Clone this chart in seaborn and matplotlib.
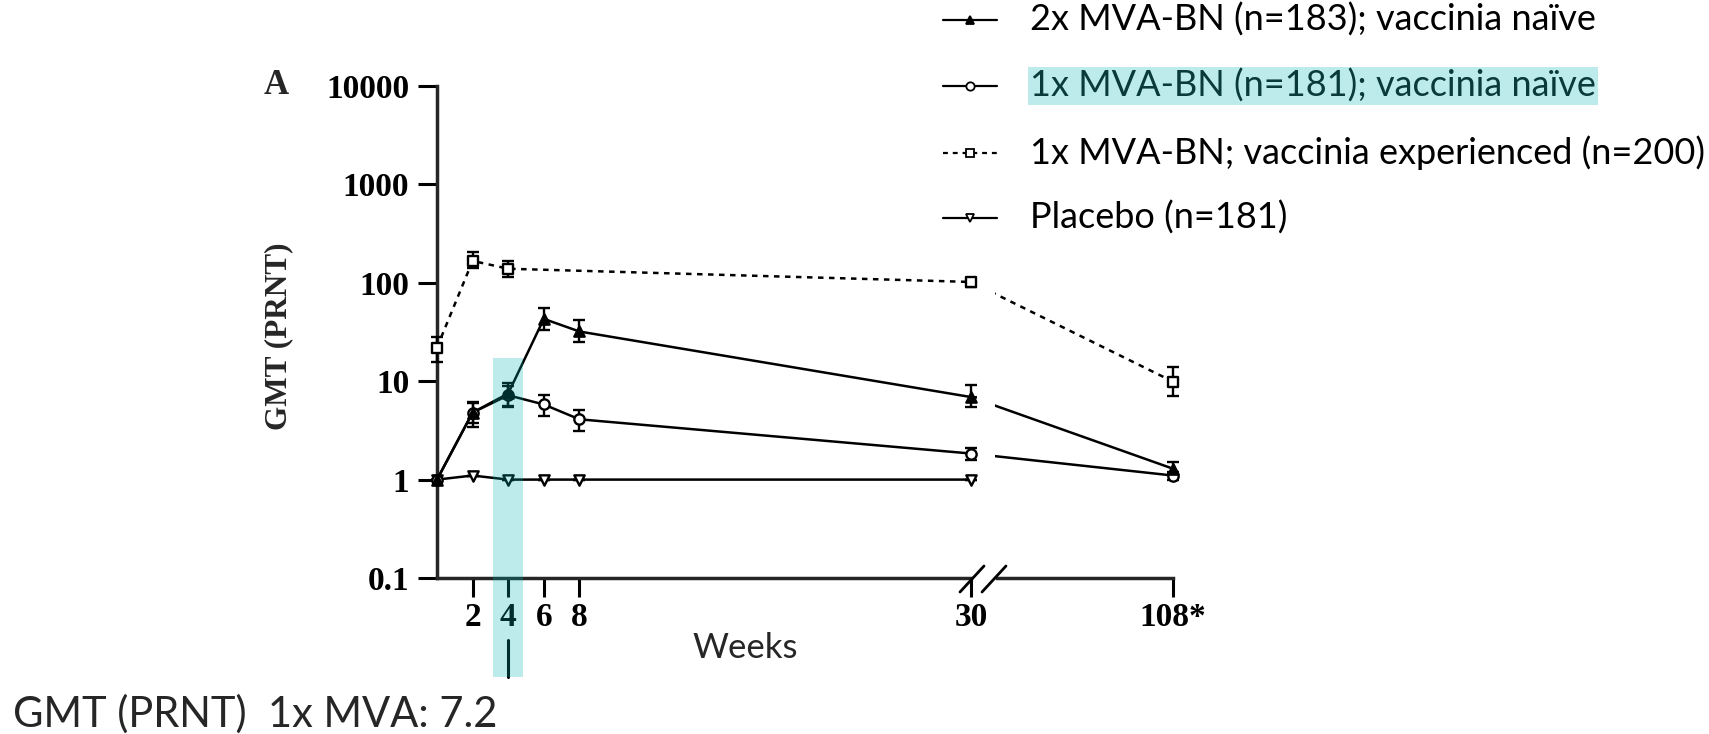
import numpy as np
import pandas as pd
import matplotlib.pyplot as plt
import seaborn as sns
from matplotlib.lines import Line2D
from matplotlib.patches import Rectangle
from matplotlib.ticker import NullLocator

# --Data (GMT by PRNT)--
weeks_2x = [0, 2, 4, 6, 8, 30, 108]
gmt_2x = [1.0, 4.8, 7.5, 43, 32, 6.9, 1.29]
lo_2x = [1.0, 3.4, 5.5, 33, 25, 5.5, 1.15]
hi_2x = [1.0, 6.1, 9.6, 56, 42, 9.2, 1.5]

weeks_1x = [0, 2, 4, 6, 8, 30, 108]
gmt_1x = [1.0, 4.8, 7.2, 5.8, 4.1, 1.84, 1.1]
lo_1x = [1.0, 3.8, 5.6, 4.4, 3.1, 1.6, 1.0]
hi_1x = [1.0, 6.0, 9.0, 7.3, 5.1, 2.1, 1.2]

weeks_exp = [0, 2, 4, 30, 108]
gmt_exp = [22, 167, 139, 102, 9.9]
lo_exp = [15.5, 142, 115, 91, 7.0]
hi_exp = [28, 207, 168, 113, 14]

weeks_pbo = [0, 2, 4, 6, 8, 30]
gmt_pbo = [1.0, 1.1, 1.0, 1.0, 1.0, 1.0]

labels = ["2x MVA-BN (n=183); vaccinia naïve",
          "1x MVA-BN (n=181); vaccinia naïve",
          "1x MVA-BN; vaccinia experienced (n=200)",
          "Placebo (n=181)"]
y_ticks = [0.1, 1, 10, 100, 1000, 10000]
y_ticklabels = ["0.1", "1", "10", "100", "1000", "10000"]
x_ticks = [2, 4, 6, 8, 30]

# -Long table
parts = []
for lab, wk, g, lo, hi in [(labels[0], weeks_2x, gmt_2x, lo_2x, hi_2x),
                           (labels[1], weeks_1x, gmt_1x, lo_1x, hi_1x),
                           (labels[2], weeks_exp, gmt_exp, lo_exp, hi_exp),
                           (labels[3], weeks_pbo, gmt_pbo, gmt_pbo, gmt_pbo)]:
    parts.append(pd.DataFrame({"group": lab, "week": wk, "gmt": g, "lo": lo, "hi": hi}))
df = pd.concat(parts, ignore_index=True)

# -marker / line style per group (z: filled 2x dose drawn on top)
styles = {
    labels[0]: dict(marker="^", fc="black", ls="-", z=7),
    labels[1]: dict(marker="o", fc="white", ls="-", z=6),
    labels[2]: dict(marker="s", fc="white", ls=(0, (2.2, 2.2)), z=5),
    labels[3]: dict(marker="v", fc="white", ls="-", z=5),
}

# --Style--
sns.set_style("ticks")
plt.rcParams["font.family"] = ["Liberation Serif", "DejaVu Serif"]
plt.rcParams["font.weight"] = "bold"
SANS = ["Lato", "DejaVu Sans"]

W, H = 1709, 734
fig = plt.figure(figsize=(W / 100, H / 100), dpi=100)


def fx(px):
    return px / W


def fy(py):
    return 1 - py / H


# -left panel: 0..30 weeks, right panel: 108 weeks (broken axis)
ax1 = fig.add_axes([fx(437), fy(578), (977 - 437) / W, (578 - 86) / H])
ax2 = fig.add_axes([fx(995), fy(578), (1182 - 995) / W, (578 - 86) / H])
ax2.set_facecolor("none")

k1 = (971 - 437) / 30      # px per week, left
k2 = (1173 - 971) / 78     # px per week, right
x2_left = 30 + (995 - 971) / k2
x2_right = 108 + (1182 - 1173) / k2

lw = 1.8
for lab in labels:
    sub = df[df["group"] == lab]
    st = styles[lab]
    for ax, part, mk in [(ax1, sub, sub[sub["week"] <= 30]),
                         (ax2, sub[sub["week"] >= 30], sub[sub["week"] > 30])]:
        if len(part) < 2:
            continue
        sns.lineplot(data=part, x="week", y="gmt", ax=ax, color="black", lw=lw,
                     linestyle=st["ls"], estimator=None, sort=False, legend=False,
                     zorder=3)
        if len(mk) == 0:
            continue
        eb = ax.errorbar(mk["week"], mk["gmt"],
                         yerr=[mk["gmt"] - mk["lo"], mk["hi"] - mk["gmt"]],
                         fmt="none", ecolor="black", elinewidth=1.7, capsize=4.6,
                         capthick=1.7, zorder=4)
        for art in eb.get_children():
            art.set_clip_on(False)
        sns.scatterplot(data=mk, x="week", y="gmt", ax=ax, marker=st["marker"], s=55,
                        color=st["fc"], edgecolor="black", linewidth=1.7,
                        clip_on=False, zorder=st["z"], legend=False)

for ax in (ax1, ax2):
    ax.set_yscale("log")
    ax.set_ylim(0.1, 10000)
    ax.yaxis.set_minor_locator(NullLocator())
    ax.set_xlabel("")
    ax.set_ylabel("")
    ax.spines[["top", "right"]].set_visible(False)
    for s in ("left", "bottom"):
        ax.spines[s].set_linewidth(2.5)
    ax.tick_params(axis="both", length=14, width=2.2, direction="out",
                   labelsize=24, color="black", labelcolor="black")
    ax.tick_params(axis="x", pad=3)
    ax.tick_params(axis="y", pad=6)

ax1.set_xlim(0, (977 - 437) / k1)
ax1.spines["bottom"].set_bounds(0, 30)
ax1.set_xticks(x_ticks)
ax1.set_xticklabels([str(t) for t in x_ticks])
ax1.set_yticks(y_ticks)
ax1.set_yticklabels(y_ticklabels)

ax2.set_xlim(x2_left, x2_right)
ax2.spines["left"].set_visible(False)
ax2.spines["bottom"].set_bounds(30 + (997 - 971) / k2, 108)
ax2.set_xticks([108])
ax2.set_xticklabels(["108*"])
ax2.set_yticks([])

# -axis break marks
for x0 in (960, 982):
    fig.add_artist(Line2D([fx(x0), fx(x0 + 24)], [fy(592), fy(566)],
                          color="black", lw=2.0, transform=fig.transFigure))

# -texts
fig.text(fx(264), fy(86), "A", ha="left", va="center", fontsize=25)
fig.text(fx(279), fy(336), "GMT (PRNT)", rotation=90, ha="center", va="center",
         fontsize=22.5)
fig.text(fx(745), fy(648), "Weeks", ha="center", va="center", family=SANS,
         fontweight="normal", fontsize=25)
fig.text(fx(13), fy(714), "GMT (PRNT)  1x MVA: 7.2", ha="left", va="center",
         family=SANS, fontweight="normal", fontsize=30)

# -legend (drawn by hand, like the original)
row_y = [20, 86, 153, 218]
for lab, ry in zip(labels, row_y):
    st = styles[lab]
    fig.add_artist(Line2D([fx(943), fx(970), fx(997)], [fy(ry)] * 3, color="black",
                          lw=1.6, linestyle=st["ls"], marker=st["marker"],
                          markevery=[1], markersize=6, markerfacecolor=st["fc"],
                          markeredgecolor="black", markeredgewidth=1.3,
                          transform=fig.transFigure))
    if lab == labels[1]:
        fig.text(fx(1030), fy(ry), lab, ha="left", va="center", family=SANS,
                 fontweight="normal", fontsize=26, color="#0b3a3a",
                 bbox=dict(boxstyle="square,pad=0.06", fc="#bdebeb", ec="none"))
    else:
        fig.text(fx(1030), fy(ry), lab, ha="left", va="center", family=SANS,
                 fontweight="normal", fontsize=26, color="black")

# -highlight of week 4
x4 = ax1.transData.transform((4, 1))[0]
half = 15
fig.add_artist(Line2D([fx(x4), fx(x4)], [fy(640), fy(677)], color="black", lw=2.2,
                      transform=fig.transFigure))
fig.add_artist(Rectangle((fx(x4 - half), fy(677)), 2 * half / W, (677 - 358) / H,
                         facecolor="#00b4b4", alpha=0.26, edgecolor="none",
                         transform=fig.transFigure, zorder=20))

fig.savefig("out.png", dpi=100)
